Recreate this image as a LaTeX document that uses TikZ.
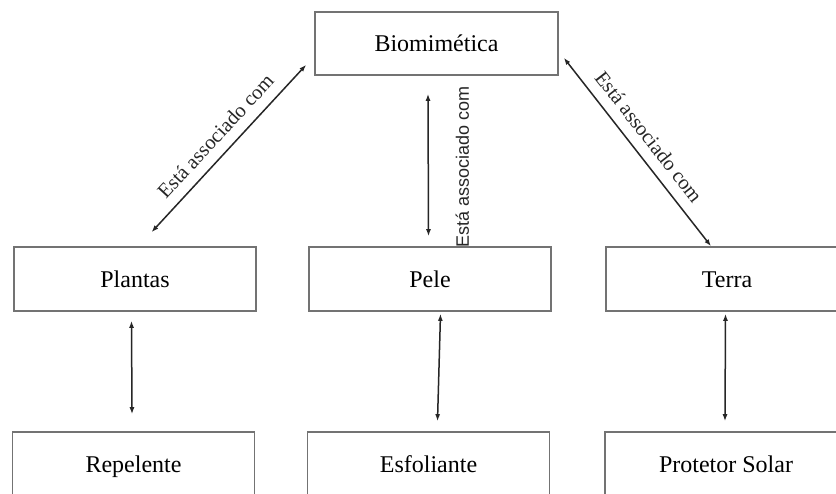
\documentclass[tikz,border=0pt]{standalone}
\usepackage{fontspec}
\setmainfont{Liberation Serif}
\newfontfamily\labelsans{Liberation Sans}
\usetikzlibrary{arrows.meta}

\begin{document}
\begin{tikzpicture}[x=1pt, y=-1pt,
    box/.style={draw=black!55, line width=1.6pt, minimum width=242pt, minimum height=64pt,
      inner sep=0pt, text height=17pt, text depth=0pt, font=\fontsize{24}{28}\selectfont},
    link/.style={{Latex[length=7pt,width=5pt]}-{Latex[length=7pt,width=5pt]}, line width=1.5pt, black!85},
    lbl/.style={font=\fontsize{20.5}{24}\selectfont, sloped}]
      \clip (0,0) rectangle (836,494);
      \fill[white] (0,0) rectangle (836,494);

      % Top
      \node[box, minimum width=243pt, minimum height=63pt] (bio) at (436.5,43.5) {Biomimética};

      % Middle row
      \node[box] (plantas) at (135,279) {Plantas};
      \node[box] (pele) at (430,279) {Pele};
      \node[box] (terra) at (727,279) {Terra};

      % Bottom row
      \node[box] (repelente) at (133.5,464) {Repelente};
      \node[box] (esfoliante) at (428.5,464) {Esfoliante};
      \node[box] (protetor) at (726,464) {Protetor Solar};

      % Links from the top
      \draw[link] ([shift={(16.5,-14)}]plantas.north) -- ([shift={(-8,-11)}]bio.south west)
            node[lbl, midway, above=7pt] {Está associado com};
      \draw[link] ([shift={(-1.5,-10)}]pele.north) -- ([shift={(-8.5,18)}]bio.south)
            node[midway, xshift=34pt, yshift=-2pt, rotate=90, font=\labelsans\fontsize{18}{21}\selectfont] {Está associado com};
      \draw[link] ([shift={(5,-18)}]bio.south east) -- ([shift={(-16,0)}]terra.north)
            node[lbl, pos=0.48, above=7pt] {Está associado com};

      % Links to the bottom
      \draw[link] ([shift={(-3.5,9)}]plantas.south) -- ([shift={(-1.5,-17)}]repelente.north);
      \draw[link] ([shift={(10.5,2)}]pele.south) -- ([shift={(9,-10)}]esfoliante.north);
      \draw[link] ([shift={(-1.5,2)}]terra.south) -- ([shift={(-1,-10)}]protetor.north);
\end{tikzpicture}
\end{document}
